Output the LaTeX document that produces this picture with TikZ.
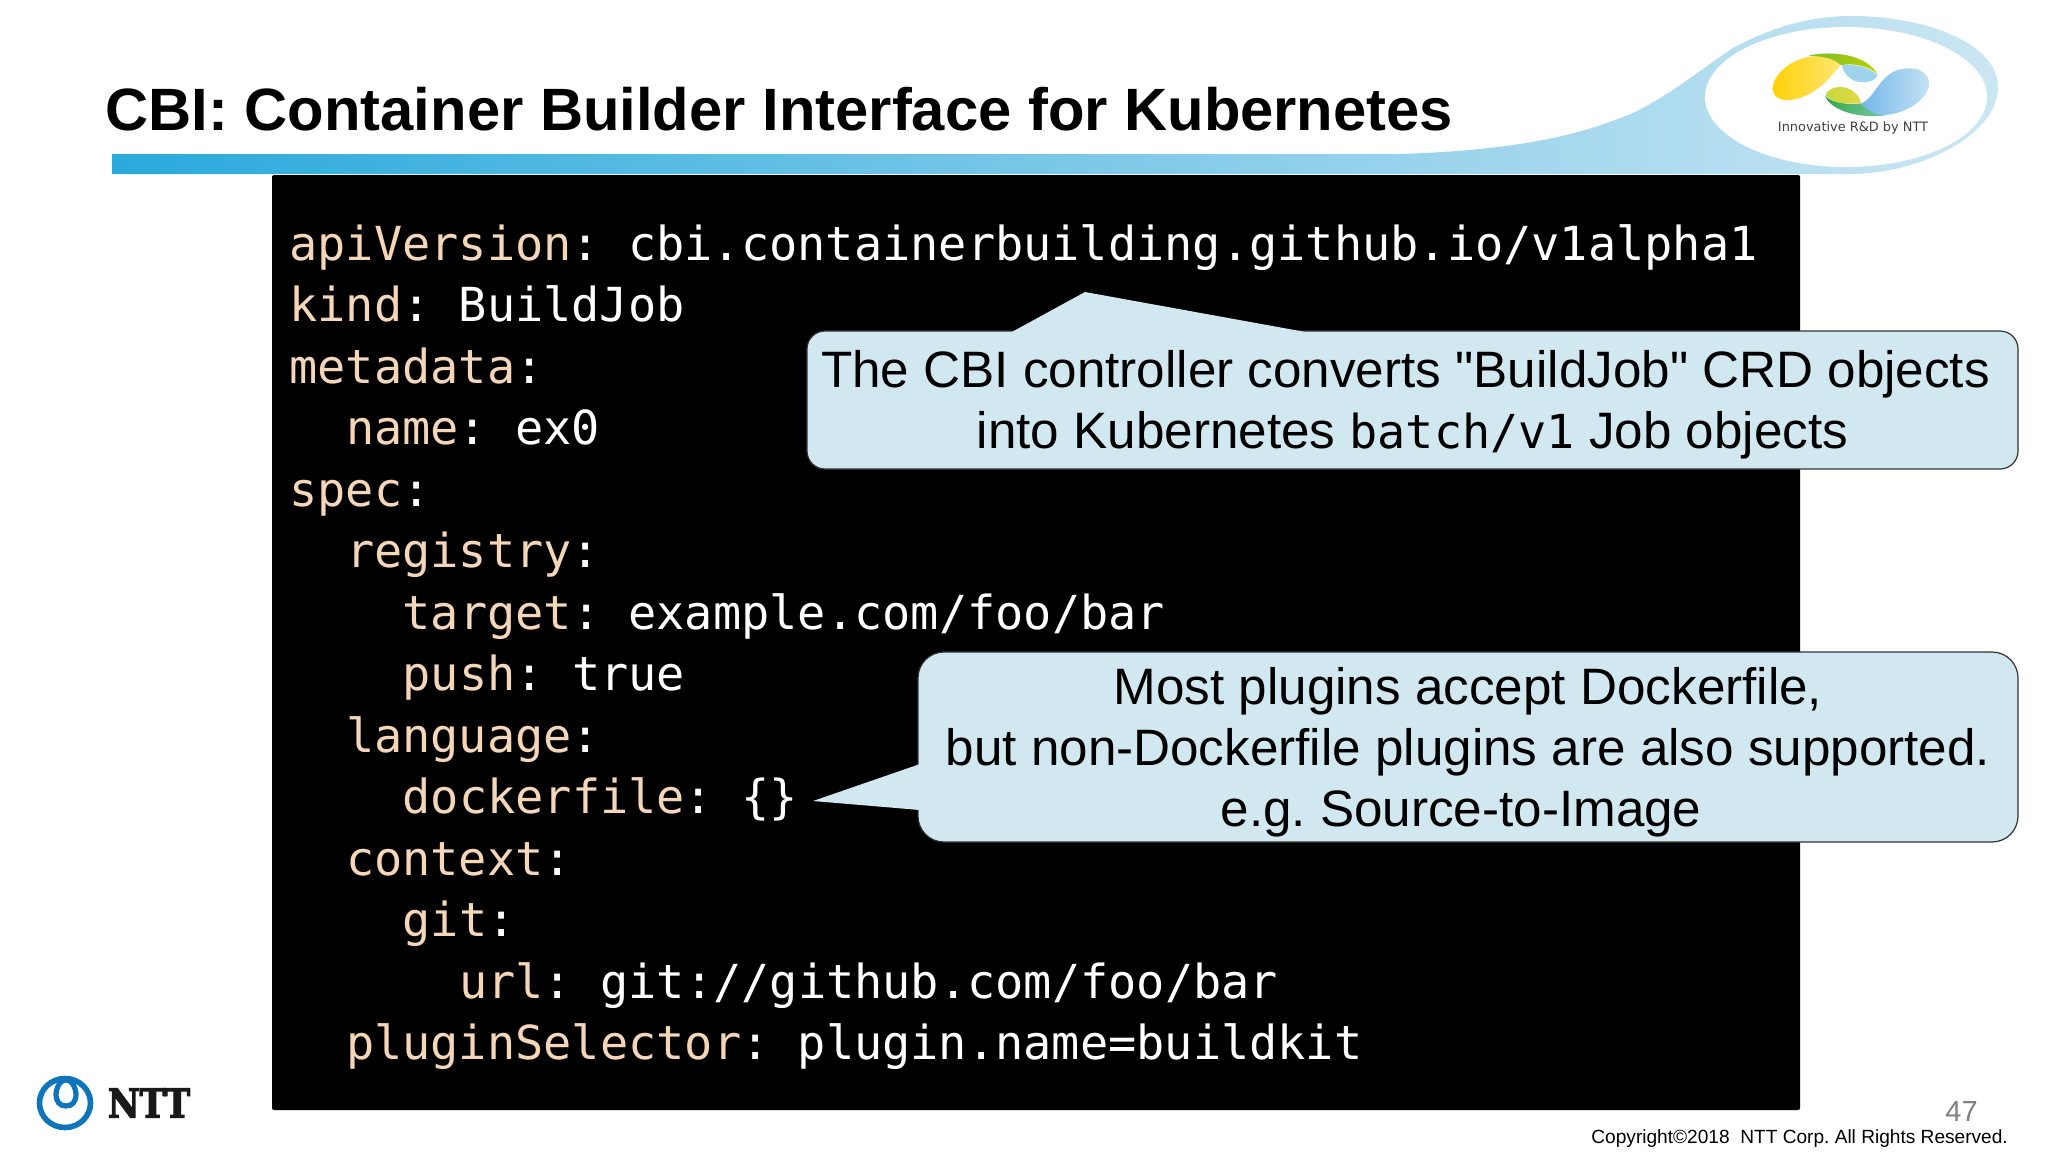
\documentclass[tikz,border=0pt]{standalone}
\usepackage{fontspec}
\setmainfont{Liberation Sans}
\newfontfamily\bodyfont{Liberation Sans}
\newfontfamily\codefont{DejaVu Sans Mono}
\newfontfamily\logofont{DejaVu Sans}
\newfontfamily\nttfont{DejaVu Serif}[BoldFeatures={FakeStretch=0.87,FakeBold=3}]
\definecolor{barblue}{HTML}{29A9DC}
\definecolor{barmid}{HTML}{84C4E8}
\definecolor{swooshblue}{HTML}{CBE6F3}
\definecolor{calloutfill}{HTML}{D2E8F0}
\definecolor{keypeach}{HTML}{F5D6B8}
\definecolor{nttblue}{HTML}{0F74BB}
\definecolor{logoyellow}{HTML}{FFD20A}
\definecolor{logopale}{HTML}{FFE570}
\definecolor{logoleaf}{HTML}{78B932}
\definecolor{logolime}{HTML}{BED200}
\definecolor{logosky}{HTML}{9DD3EC}
\definecolor{logoblue}{HTML}{75B8EA}
\definecolor{logoice}{HTML}{C6E3F4}
\definecolor{logogreen}{HTML}{30A84A}
\definecolor{logomint}{HTML}{82C8AA}
\definecolor{logoolive}{HTML}{C8D63C}
\definecolor{logosand}{HTML}{E2D846}
\newcommand{\KeyText}[1]{\textcolor{keypeach}{#1}:}
\tikzset{
    codeline/.style={anchor=base west, inner sep=0pt, text=white, font=\codefont\fontsize{23.45}{28}\selectfont},
    calloutbox/.style={draw=black!80, line width=0.6pt, fill=calloutfill, rounded corners=9pt},
    callouttext/.style={inner sep=0pt, align=center, font=\bodyfont\fontsize{25.6}{30.5}\selectfont},
    footer/.style={anchor=base west, inner sep=0pt}
}
\begin{document}
\frenchspacing
\begin{tikzpicture}[x=0.5pt,y=-0.5pt]
    \useasboundingbox (0,0) rectangle (2048,1152);
    % header swoosh and bar
    \shade[left color=barblue, middle color=barmid, right color=swooshblue] (112,154) -- (1400,154)
        .. controls (1520,150) and (1580,135) .. (1633,113)
        .. controls (1670,95) and (1700,70) .. (1733,48)
        .. controls (1770,28) and (1810,16) .. (1850,16)
        .. controls (1930,16) and (1998,45) .. (1998,87)
        .. controls (1998,135) and (1920,174) .. (1850,174) -- (112,174) -- cycle;
    \fill[white] (1846,97) ellipse (141 and 70);
    \node[anchor=base west, inner sep=0pt, font=\bfseries\fontsize{29.87}{34}\selectfont] (title) at (105,130) {CBI: Container Builder Interface for Kubernetes};
    % logo, top right
    \begin{scope}[shift={(1600,0)},scale=1/3]
        \shade[left color=logoyellow, right color=logopale] (518,265) .. controls (520,215) and (590,165) .. (660,168)
            .. controls (690,170) and (710,180) .. (722,195) .. controls (690,230) and (650,290) .. (570,300)
            .. controls (540,303) and (518,290) .. (518,265) -- cycle;
        \shade[left color=logoleaf, right color=logolime] (625,167) .. controls (700,150) and (800,165) .. (832,222)
            .. controls (800,195) and (760,190) .. (722,195) .. controls (700,175) and (670,168) .. (625,167) -- cycle;
        \fill[logosky] (725,195) .. controls (765,192) and (805,200) .. (832,225)
            .. controls (825,250) and (780,252) .. (755,238) .. controls (738,228) and (730,212) .. (725,195) -- cycle;
        \shade[left color=logoblue, right color=logoice] (785,310) .. controls (830,290) and (840,210) .. (920,205)
            .. controls (975,203) and (995,235) .. (985,265) .. controls (970,310) and (900,350) .. (830,345)
            .. controls (810,340) and (795,325) .. (785,310) -- cycle;
        \shade[left color=logogreen, right color=logomint] (675,288) .. controls (700,310) and (745,315) .. (785,310)
            .. controls (800,330) and (820,345) .. (860,347) .. controls (780,355) and (695,335) .. (675,288) -- cycle;
        \shade[left color=logoolive, right color=logosand] (677,287) .. controls (680,265) and (720,252) .. (750,268)
            .. controls (770,278) and (780,295) .. (783,308) .. controls (745,315) and (700,310) .. (677,287) -- cycle;
    \end{scope}
    \node[inner sep=0pt, text=black!75, font=\logofont\fontsize{6.45}{8}\selectfont] (rnd) at (1853,128) {Innovative R\&D by NTT};
    % code panel
    \fill[black, rounded corners=1pt] (272,175) rectangle (1800,1110);
    \node[codeline] (l1) at (289,260) {\KeyText{apiVersion} cbi.containerbuilding.github.io/v1alpha1};
    \node[codeline] (l2) at (289,321.5) {\KeyText{kind} BuildJob};
    \node[codeline] (l3) at (289,383) {\KeyText{metadata}};
    \node[codeline] (l4) at (345.6,444.5) {\KeyText{name} ex0};
    \node[codeline] (l5) at (289,506) {\KeyText{spec}};
    \node[codeline] (l6) at (345.6,567.5) {\KeyText{registry}};
    \node[codeline] (l7) at (402.2,629) {\KeyText{target} example.com/foo/bar};
    \node[codeline] (l8) at (402.2,690.5) {\KeyText{push} true};
    \node[codeline] (l9) at (345.6,752) {\KeyText{language}};
    \node[codeline] (l10) at (402.2,813.5) {\KeyText{dockerfile} \{\}};
    \node[codeline] (l11) at (345.6,875) {\KeyText{context}};
    \node[codeline] (l12) at (402.2,936.5) {\KeyText{git}};
    \node[codeline] (l13) at (458.8,998) {\KeyText{url} git://github.com/foo/bar};
    \node[codeline] (l14) at (345.6,1059.5) {\KeyText{pluginSelector} plugin.name=buildkit};
    % callouts
    \node[calloutbox, minimum width=605.5pt, minimum height=69pt] (crdbox) at (1412.5,400) {};
    \coordinate (crdtip) at (1085,292);
    \coordinate (crdleft) at (1010,333);
    \coordinate (crdright) at (1311,333);
    \fill[calloutfill] (crdtip) -- (crdright) -- (crdleft) -- cycle;
    \node[callouttext] (crdtext) at ([yshift=-2.6pt]crdbox.center) {The CBI controller converts "BuildJob" CRD objects\hspace*{7pt}\\into Kubernetes {\codefont\fontsize{23.4}{30.5}\selectfont batch/v1} Job objects};
    \node[calloutbox, rounded corners=13pt, minimum width=550pt, minimum height=95pt] (pluginbox) at (1468,747) {};
    \coordinate (plugintip) at (813,801);
    \coordinate (plugintop) at (920,764);
    \coordinate (pluginbottom) at (920,810);
    \fill[calloutfill] (plugintip) -- (plugintop) -- (pluginbottom) -- cycle;
    \node[callouttext] (plugintext) at ([yshift=-2.6pt]pluginbox.center) {Most plugins accept Dockerfile,\\but non-Dockerfile plugins are also supported.\\e.g. Source-to-Image\hspace*{7pt}};
    % footer
    \node[footer, text=black!50, font=\fontsize{14.5}{17}\selectfont] (pageno) at (1945,1121) {47};
    \node[footer, font=\fontsize{9.55}{12}\selectfont] (copyright) at (1591,1143) {Copyright©2018\ \ NTT Corp. All Rights Reserved.};
    % NTT mark
    \draw[nttblue, line width=2.8pt] (65,1103) ellipse (25.5 and 24.5);
    \draw[nttblue, line width=2.6pt] (66,1080) .. controls (58,1080) and (56,1092) .. (56,1094) .. controls (56,1102) and (60,1106) .. (66,1106)
        .. controls (72,1106) and (76,1102) .. (76,1094) .. controls (76,1092) and (74,1080) .. (66,1080) -- cycle;
    \node[inner sep=0pt, text=black!90, font=\nttfont\bfseries\fontsize{20}{24}\selectfont] (nttname) at (149,1103) {NTT};
\end{tikzpicture}
\end{document}
